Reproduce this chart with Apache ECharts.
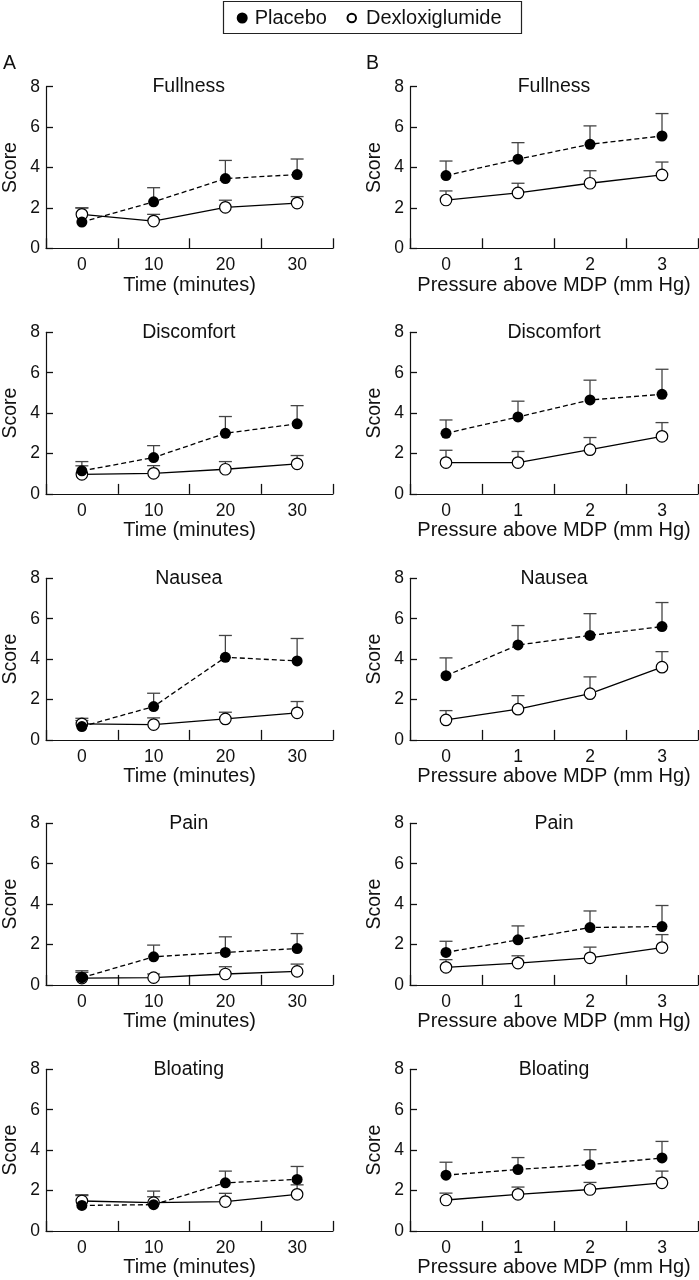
<!DOCTYPE html>
<html>
<head>
<meta charset="utf-8">
<script src="https://cdn.jsdelivr.net/npm/echarts@6/dist/echarts.min.js"></script>
<style>
  html, body { margin: 0; padding: 0; background: #fff; }
  #chart { width: 699px; height: 1280px; }
</style>
</head>
<body>
<div id="chart"></div>
<script>
// Tick labels
const timeLabels = ["0", "10", "20", "30"];
const pressureLabels = ["0", "1", "2", "3"];

// Mean scores and SEM
const fullnessTimePlacebo = [1.3, 2.3, 3.45, 3.65];
const fullnessTimePlaceboSem = [0.7, 0.7, 0.9, 0.77];
const fullnessTimeDexlox = [1.68, 1.35, 2.03, 2.24];
const fullnessTimeDexloxSem = [0.32, 0.33, 0.35, 0.32];

const fullnessPressPlacebo = [3.6, 4.41, 5.15, 5.56];
const fullnessPressPlaceboSem = [0.72, 0.82, 0.91, 1.11];
const fullnessPressDexlox = [2.39, 2.74, 3.22, 3.63];
const fullnessPressDexloxSem = [0.45, 0.48, 0.62, 0.64];

const discomfortTimePlacebo = [1.14, 1.8, 3.0, 3.47];
const discomfortTimePlaceboSem = [0.46, 0.59, 0.83, 0.9];
const discomfortTimeDexlox = [0.97, 1.02, 1.22, 1.49];
const discomfortTimeDexloxSem = [0.42, 0.38, 0.38, 0.41];

const discomfortPressPlacebo = [3.0, 3.81, 4.65, 4.93];
const discomfortPressPlaceboSem = [0.66, 0.78, 0.98, 1.24];
const discomfortPressDexlox = [1.55, 1.55, 2.19, 2.85];
const discomfortPressDexloxSem = [0.61, 0.55, 0.6, 0.68];

const nauseaTimePlacebo = [0.66, 1.65, 4.09, 3.91];
const nauseaTimePlaceboSem = [0.41, 0.66, 1.08, 1.11];
const nauseaTimeDexlox = [0.79, 0.76, 1.04, 1.34];
const nauseaTimeDexloxSem = [0.17, 0.33, 0.33, 0.56];

const nauseaPressPlacebo = [3.18, 4.7, 5.17, 5.61];
const nauseaPressPlaceboSem = [0.88, 0.96, 1.08, 1.19];
const nauseaPressDexlox = [0.99, 1.52, 2.29, 3.6];
const nauseaPressDexloxSem = [0.46, 0.67, 0.83, 0.77];

const painTimePlacebo = [0.36, 1.39, 1.61, 1.8];
const painTimePlaceboSem = [0.34, 0.58, 0.77, 0.74];
const painTimeDexlox = [0.34, 0.36, 0.54, 0.67];
const painTimeDexloxSem = [0.28, 0.18, 0.36, 0.36];

const painPressPlacebo = [1.61, 2.23, 2.84, 2.89];
const painPressPlaceboSem = [0.55, 0.69, 0.82, 1.04];
const painPressDexlox = [0.87, 1.08, 1.34, 1.85];
const painPressDexloxSem = [0.38, 0.36, 0.53, 0.64];

const bloatingTimePlacebo = [1.26, 1.3, 2.38, 2.55];
const bloatingTimePlaceboSem = [0.49, 0.67, 0.58, 0.64];
const bloatingTimeDexlox = [1.48, 1.4, 1.45, 1.81];
const bloatingTimeDexloxSem = [0.31, 0.29, 0.41, 0.47];

const bloatingPressPlacebo = [2.76, 3.04, 3.28, 3.61];
const bloatingPressPlaceboSem = [0.64, 0.59, 0.74, 0.82];
const bloatingPressDexlox = [1.53, 1.81, 2.05, 2.38];
const bloatingPressDexloxSem = [0.34, 0.36, 0.35, 0.58];

const FONT = '"Liberation Sans", Arial, Helvetica, sans-serif';
const INK = "#111";

// layout of the 5 x 2 panels
const COL_LEFT = [44.5, 410];
const COL_WIDTH = [288.5, 288];
const ROW_TOP = [86.7, 332.3, 578.3, 823.3, 1069.3];
const GRID_H = 161.6;

const panels = [
  { title: "Fullness", col: 0, row: 0, p: fullnessTimePlacebo, ps: fullnessTimePlaceboSem, d: fullnessTimeDexlox, ds: fullnessTimeDexloxSem },
  { title: "Fullness", col: 1, row: 0, p: fullnessPressPlacebo, ps: fullnessPressPlaceboSem, d: fullnessPressDexlox, ds: fullnessPressDexloxSem },
  { title: "Discomfort", col: 0, row: 1, p: discomfortTimePlacebo, ps: discomfortTimePlaceboSem, d: discomfortTimeDexlox, ds: discomfortTimeDexloxSem },
  { title: "Discomfort", col: 1, row: 1, p: discomfortPressPlacebo, ps: discomfortPressPlaceboSem, d: discomfortPressDexlox, ds: discomfortPressDexloxSem },
  { title: "Nausea", col: 0, row: 2, p: nauseaTimePlacebo, ps: nauseaTimePlaceboSem, d: nauseaTimeDexlox, ds: nauseaTimeDexloxSem },
  { title: "Nausea", col: 1, row: 2, p: nauseaPressPlacebo, ps: nauseaPressPlaceboSem, d: nauseaPressDexlox, ds: nauseaPressDexloxSem },
  { title: "Pain", col: 0, row: 3, p: painTimePlacebo, ps: painTimePlaceboSem, d: painTimeDexlox, ds: painTimeDexloxSem },
  { title: "Pain", col: 1, row: 3, p: painPressPlacebo, ps: painPressPlaceboSem, d: painPressDexlox, ds: painPressDexloxSem },
  { title: "Bloating", col: 0, row: 4, p: bloatingTimePlacebo, ps: bloatingTimePlaceboSem, d: bloatingTimeDexlox, ds: bloatingTimeDexloxSem },
  { title: "Bloating", col: 1, row: 4, p: bloatingPressPlacebo, ps: bloatingPressPlaceboSem, d: bloatingPressDexlox, ds: bloatingPressDexloxSem },
];

function renderErr(params, api) {
  const i = api.value(0);
  const mean = api.value(1);
  const sem = api.value(2);
  const p0 = api.coord([i, mean]);
  const p1 = api.coord([i, mean + sem]);
  const half = 6.5;
  const style = { stroke: "#444", lineWidth: 1.3 };
  return {
    type: "group",
    children: [
      { type: "line", shape: { x1: p0[0], y1: p0[1], x2: p1[0], y2: p1[1] }, style },
      { type: "line", shape: { x1: p1[0] - half, y1: p1[1], x2: p1[0] + half, y2: p1[1] }, style },
    ],
  };
}

const grid = [];
const xAxis = [];
const yAxis = [];
const series = [];
const graphic = [];

panels.forEach((pn, k) => {
  const left = COL_LEFT[pn.col];
  const width = COL_WIDTH[pn.col];
  const top = ROW_TOP[pn.row];
  grid.push({ left, top, width, height: GRID_H });

  xAxis.push({
    type: "category",
    gridIndex: k,
    data: pn.col === 0 ? timeLabels : pressureLabels,
    boundaryGap: true,
    name: pn.col === 0 ? "Time (minutes)" : "Pressure above MDP (mm Hg)",
    nameLocation: "middle",
    nameGap: 27,
    nameTextStyle: { fontFamily: FONT, fontSize: 20, color: INK },
    axisLine: { show: true, lineStyle: { color: INK, width: 1.2 } },
    axisTick: { show: true, inside: true, length: 10, lineStyle: { color: INK, width: 1.3 } },
    axisLabel: { fontFamily: FONT, fontSize: 17.5, color: INK, margin: 8 },
    splitLine: { show: false },
  });

  yAxis.push({
    type: "value",
    gridIndex: k,
    min: 0,
    max: 8,
    interval: 2,
    name: "Score",
    nameLocation: "middle",
    nameGap: 25,
    nameTextStyle: { fontFamily: FONT, fontSize: 19.5, color: INK },
    axisLine: { show: true, lineStyle: { color: INK, width: 1.2 } },
    axisTick: { show: true, inside: true, length: 7, lineStyle: { color: INK, width: 1.3 } },
    axisLabel: { fontFamily: FONT, fontSize: 17.5, color: INK, margin: 6 },
    splitLine: { show: false },
  });

  series.push({
    type: "custom",
    xAxisIndex: k,
    yAxisIndex: k,
    z: 1,
    renderItem: renderErr,
    encode: { x: 0, y: 1 },
    data: pn.d.map((v, i) => [i, v, pn.ds[i]]),
  });
  series.push({
    type: "custom",
    xAxisIndex: k,
    yAxisIndex: k,
    z: 1,
    renderItem: renderErr,
    encode: { x: 0, y: 1 },
    data: pn.p.map((v, i) => [i, v, pn.ps[i]]),
  });
  series.push({
    name: "Dexloxiglumide",
    type: "line",
    xAxisIndex: k,
    yAxisIndex: k,
    z: 3,
    data: pn.d,
    symbol: "circle",
    symbolSize: 11.5,
    itemStyle: { color: "#fff", borderColor: "#000", borderWidth: 1.2 },
    lineStyle: { color: "#000", width: 1.3, type: "solid" },
  });
  series.push({
    name: "Placebo",
    type: "line",
    xAxisIndex: k,
    yAxisIndex: k,
    z: 4,
    data: pn.p,
    symbol: "circle",
    symbolSize: 11,
    itemStyle: { color: "#000" },
    lineStyle: { color: "#000", width: 1.3, type: [5, 3] },
  });

  graphic.push({
    type: "text",
    x: left + width / 2,
    y: top,
    style: {
      text: pn.title,
      fontFamily: FONT,
      fontSize: 19.5,
      fill: INK,
      textAlign: "center",
      textVerticalAlign: "middle",
    },
  });
});

graphic.push(
  { type: "text", x: 3, y: 64, style: { text: "A", fontFamily: FONT, fontSize: 19.5, fill: INK, textVerticalAlign: "middle" } },
  { type: "text", x: 366, y: 64, style: { text: "B", fontFamily: FONT, fontSize: 19.5, fill: INK, textVerticalAlign: "middle" } },
  {
    type: "rect",
    shape: { x: 223.5, y: 1.5, width: 298, height: 32 },
    style: { fill: "none", stroke: "#222", lineWidth: 1.2 },
  }
);

const chart = echarts.init(document.getElementById("chart"));
chart.setOption({
  animation: false,
  backgroundColor: "#fff",
  legend: [
    {
      data: ["Placebo"],
      left: 236.7,
      top: 8,
      padding: 0,
      icon: "circle",
      itemWidth: 11,
      itemHeight: 11,
      selectedMode: false,
      textStyle: { fontFamily: FONT, fontSize: 20, color: INK, padding: [0, 0, 0, 2] },
    },
    {
      data: ["Dexloxiglumide"],
      left: 346.5,
      top: 8,
      padding: 0,
      icon: "circle",
      itemWidth: 8.5,
      itemHeight: 8.5,
      selectedMode: false,
      textStyle: { fontFamily: FONT, fontSize: 20, color: INK, padding: [0, 0, 0, 5] },
    },
  ],
  grid,
  xAxis,
  yAxis,
  series,
  graphic,
});
</script>
</body>
</html>
